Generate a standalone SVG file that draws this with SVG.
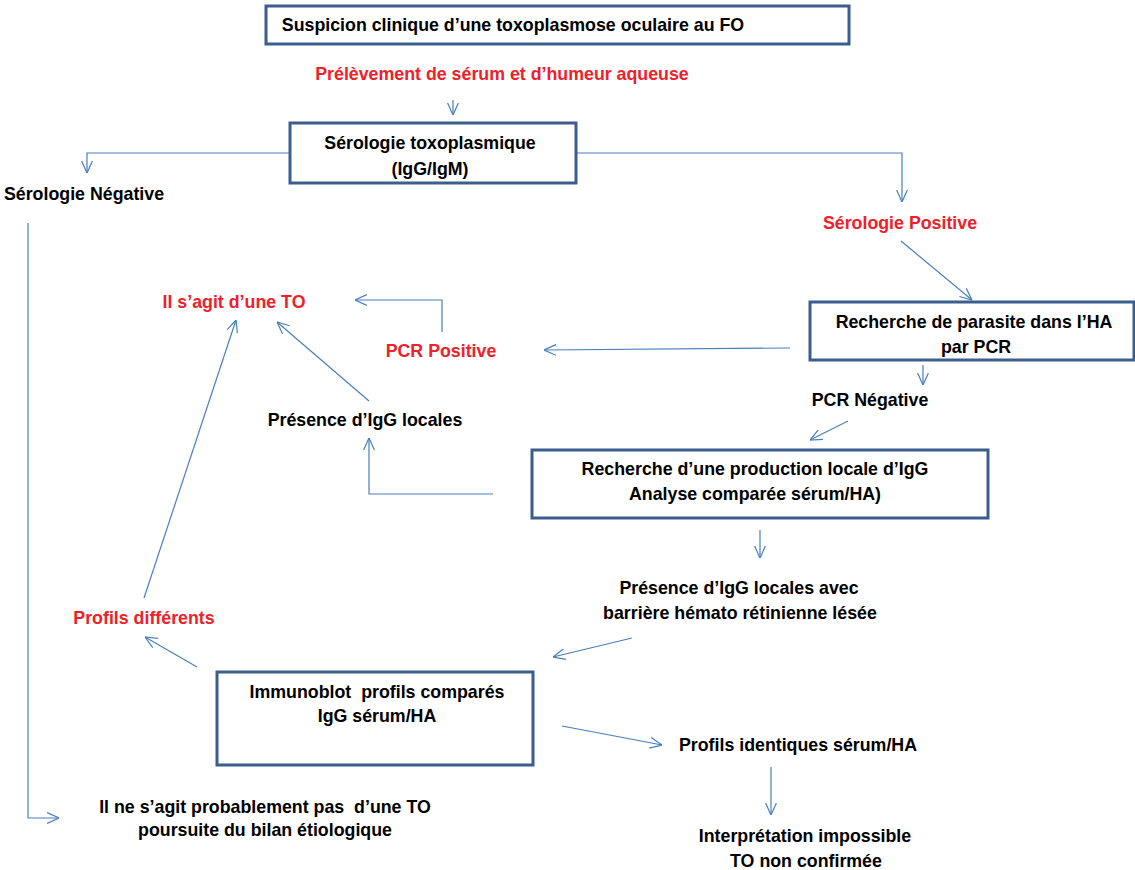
<svg xmlns="http://www.w3.org/2000/svg" width="1135" height="870" viewBox="0 0 1135 870">
<defs>
<marker id="arr" viewBox="0 0 10 10" refX="10" refY="5" markerWidth="12" markerHeight="12" markerUnits="userSpaceOnUse" orient="auto">
<path d="M0,0.5 L10,5 L0,9.5" fill="none" stroke="#4A7EBB" stroke-width="1"/>
</marker>
</defs>
<style>
.box{fill:#fff;stroke:#3B5E8C;stroke-width:3}
.t{font-family:"Liberation Sans",Arial,sans-serif;font-weight:bold;font-size:17.8px;fill:#000;text-anchor:middle}
.r{fill:#F0202A}
.c{fill:none;stroke:#4A7EBB;stroke-width:1.2;marker-end:url(#arr)}
</style>
<rect width="1135" height="870" fill="#fff"/>
<g id="connectors">
<path class="c" d="M453,100 L453,115"/>
<path class="c" d="M290,153 L87,153 L87,173"/>
<path class="c" d="M576,153 L902,153 L902,202"/>
<path class="c" d="M901,241 L972,300"/>
<path class="c" d="M790,348 L544,350"/>
<path class="c" d="M442,332 L442,300 L355,300"/>
<path class="c" d="M369,401 L277,322"/>
<path class="c" d="M493,494 L369,494 L369,438"/>
<path class="c" d="M923,365 L923,385"/>
<path class="c" d="M848,421 L810,440"/>
<path class="c" d="M760,530 L760,558"/>
<path class="c" d="M632,638 L553,657"/>
<path class="c" d="M197,667 L145,637"/>
<path class="c" d="M144,598 L236,320"/>
<path class="c" d="M562,726 L662,745"/>
<path class="c" d="M771,767 L771,815"/>
<path class="c" d="M28,223 L28,818 L59,818"/>
</g>
<g id="n-suspicion">
<rect class="box" x="266" y="6" width="583" height="38"/>
<text class="t" x="513" y="31">Suspicion clinique d’une toxoplasmose oculaire au FO</text>
</g>
<g id="n-prelevement">
<text class="t r" x="502" y="80">Prélèvement de sérum et d’humeur aqueuse</text>
</g>
<g id="n-serologie">
<rect class="box" x="290" y="123" width="286" height="60"/>
<text class="t" x="430" y="149">Sérologie toxoplasmique</text>
<text class="t" x="430" y="175">(IgG/IgM)</text>
</g>
<g id="n-sero-neg">
<text class="t" x="84" y="200">Sérologie Négative</text>
</g>
<g id="n-sero-pos">
<text class="t r" x="900" y="229">Sérologie Positive</text>
</g>
<g id="n-pcr">
<rect class="box" x="810" y="302" width="324" height="58"/>
<text class="t" x="974" y="328">Recherche de parasite dans l’HA</text>
<text class="t" x="976" y="353">par PCR</text>
</g>
<g id="n-to">
<text class="t r" x="234" y="308">Il s’agit d’une TO</text>
</g>
<g id="n-pcr-pos">
<text class="t r" x="441" y="357">PCR Positive</text>
</g>
<g id="n-pcr-neg">
<text class="t" x="870" y="406">PCR Négative</text>
</g>
<g id="n-igg-locales">
<text class="t" x="365" y="426">Présence d’IgG locales</text>
</g>
<g id="n-production">
<rect class="box" x="532" y="450" width="456" height="68"/>
<text class="t" x="755" y="475">Recherche d’une production locale d’IgG</text>
<text class="t" x="755" y="500">Analyse comparée sérum/HA)</text>
</g>
<g id="n-barriere">
<text class="t" x="739" y="594">Présence d’IgG locales avec</text>
<text class="t" x="740" y="619">barrière hémato rétinienne lésée</text>
</g>
<g id="n-profils-diff">
<text class="t r" x="144" y="624">Profils différents</text>
</g>
<g id="n-immunoblot">
<rect class="box" x="217" y="672" width="316" height="93"/>
<text class="t" x="377" y="698" xml:space="preserve">Immunoblot  profils comparés</text>
<text class="t" x="377" y="722">IgG sérum/HA</text>
</g>
<g id="n-profils-id">
<text class="t" x="798" y="751">Profils identiques sérum/HA</text>
</g>
<g id="n-interpretation">
<text class="t" x="805" y="842">Interprétation impossible</text>
<text class="t" x="806" y="867">TO non confirmée</text>
</g>
<g id="n-pas-to">
<text class="t" x="265" y="813" xml:space="preserve">Il ne s’agit probablement pas  d’une TO</text>
<text class="t" x="265" y="836">poursuite du bilan étiologique</text>
</g>
</svg>
